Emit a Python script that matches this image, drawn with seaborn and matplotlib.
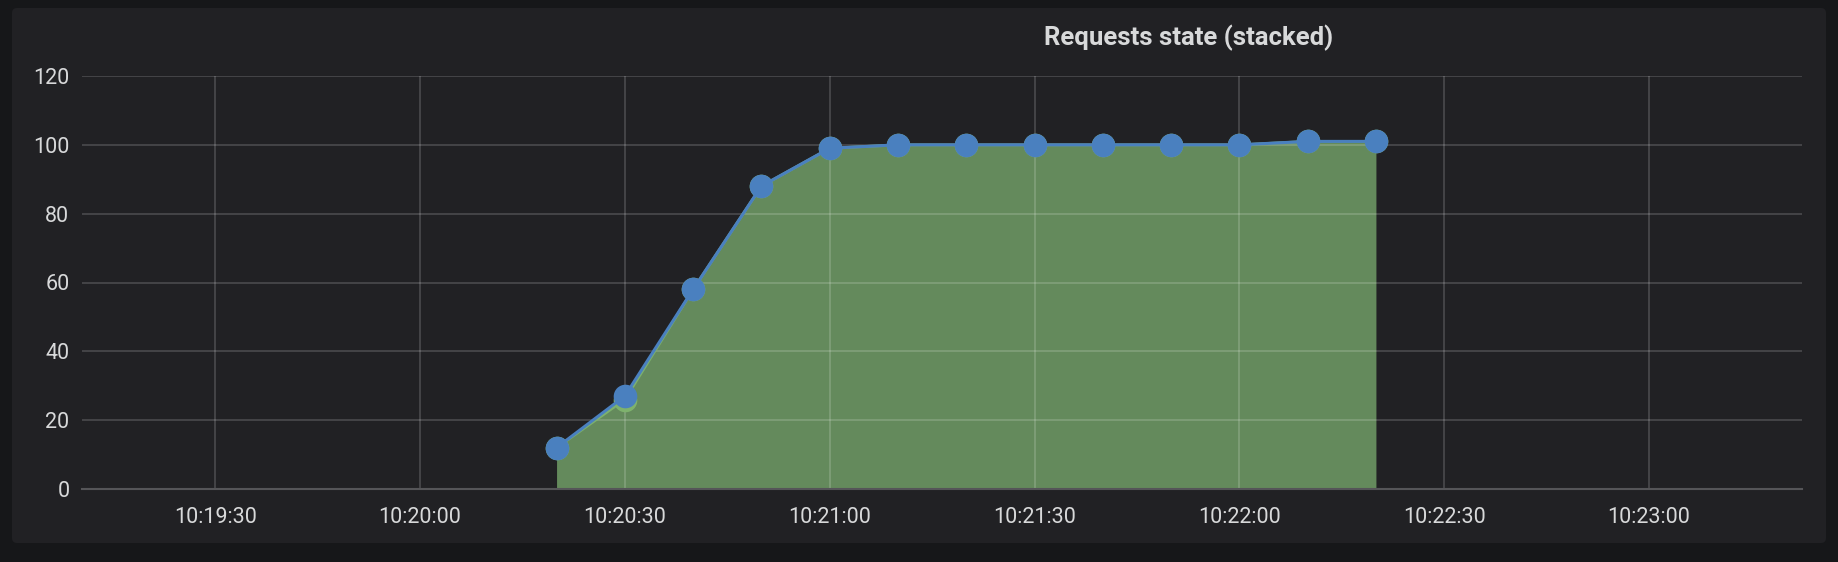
import matplotlib
matplotlib.use("Agg")
import numpy as np
import pandas as pd
import matplotlib.pyplot as plt
import matplotlib.dates as mdates
import matplotlib.patches as mpatches
import seaborn as sns

# -----------------------------
# DATA
# -----------------------------
times = ["10:20:20", "10:20:30", "10:20:40", "10:20:50", "10:21:00", "10:21:10",
         "10:21:20", "10:21:30", "10:21:40", "10:21:50", "10:22:00", "10:22:10",
         "10:22:20"]
done = [12, 26, 58, 88, 99, 100, 100, 100, 100, 100, 100, 101, 101]
pending = [0, 1, 0, 0, 0, 0, 0, 0, 0, 0, 0, 0, 0]
x_start = "10:19:10.5"
x_end = "10:23:22.4"
y_ticks = [0, 20, 40, 60, 80, 100, 120]
title = "Requests state (stacked)"

# -----------------------------
# STYLE
# -----------------------------
OUTER_BG = "#161719"
PANEL_BG = "#212124"
GREEN = "#7EB26D"
GREEN_FILL = "#648a5c"
BLUE = "#4a80bf"
TEXT = "#d8d9da"

sns.set_theme(style="dark")
plt.rcParams["font.family"] = ["Roboto", "DejaVu Sans"]

day = "2019-01-01 "
df = pd.DataFrame({
    "time": pd.to_datetime([day + t for t in times]),
    "done": done,
})
df["total"] = df["done"] + np.array(pending)

fig = plt.figure(figsize=(18.38, 5.62), dpi=100, facecolor=OUTER_BG)
panel = mpatches.FancyBboxPatch((12, 19), 1814, 535,
                                boxstyle="round,pad=0,rounding_size=5",
                                transform=None, facecolor=PANEL_BG,
                                edgecolor="none", zorder=0)
fig.patches.append(panel)

ax = fig.add_axes([82 / 1838, 73 / 562, 1720 / 1838, 413 / 562])
ax.set_zorder(1)
ax.set_facecolor(PANEL_BG)

# stacked areas
ax.fill_between(df["time"], 0, df["done"], color=GREEN_FILL, linewidth=0, zorder=1)
ax.fill_between(df["time"], df["done"], df["total"], color=BLUE, alpha=0.7,
                linewidth=0, zorder=1)

sns.lineplot(data=df, x="time", y="done", ax=ax, color=GREEN, linewidth=2,
             marker="o", markersize=17, markeredgewidth=0, zorder=3)
sns.lineplot(data=df, x="time", y="total", ax=ax, color=BLUE, linewidth=2.2,
             marker="o", markersize=17, markeredgewidth=0, zorder=4)

ax.set_xlim(pd.Timestamp(day + x_start), pd.Timestamp(day + x_end))
ax.set_ylim(0, 120)
ax.set_yticks(y_ticks)
ax.xaxis.set_major_locator(mdates.SecondLocator(bysecond=[0, 30]))
ax.xaxis.set_major_formatter(mdates.DateFormatter("%H:%M:%S"))

ax.set_axisbelow("line")
ax.grid(True, color="white", alpha=0.19, linewidth=1.2)
ax.set_xlabel("")
ax.set_ylabel("")
ax.tick_params(axis="both", length=0, colors=TEXT, labelsize=15.5)
ax.tick_params(axis="y", pad=9)
ax.tick_params(axis="x", pad=13)

for side in ["top", "right", "left"]:
    ax.spines[side].set_visible(False)
ax.spines["bottom"].set_color("#555558")
ax.spines["bottom"].set_linewidth(1.5)

fig.text(1189 / 1838, 1 - 37.5 / 562, title, color=TEXT, fontsize=18.5,
         fontweight="bold", ha="center", va="center")

fig.savefig("out.png", dpi=100, facecolor=OUTER_BG)
